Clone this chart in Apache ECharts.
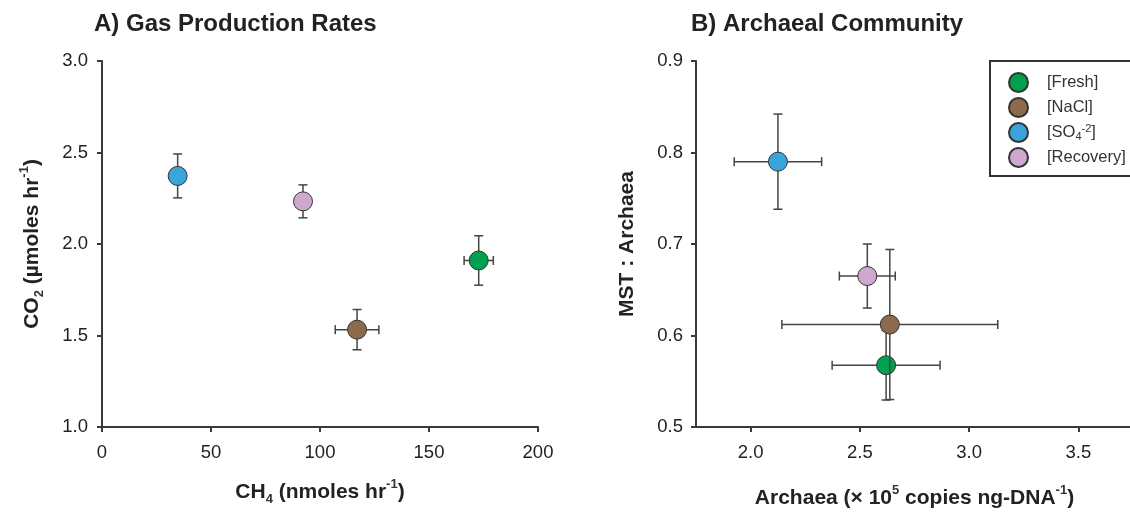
<!DOCTYPE html>
<html>
<head>
<meta charset="utf-8">
<script src="https://cdn.jsdelivr.net/npm/echarts@6/dist/echarts.min.js"></script>
<style>
  html, body { margin: 0; padding: 0; background: #fff; }
  #chart { width: 1130px; height: 514px; }
</style>
</head>
<body>
<div id="chart"></div>
<script>
// treatment groups, same order in both panels
const groups = ['[Fresh]', '[NaCl]', '[SO4-2]', '[Recovery]'];
const groupColors = ['#00a04f', '#8b6b4b', '#3aa5da', '#cfa8d0'];

// A) gas production: CH4 (nmoles/hr) vs CO2 (umoles/hr), with error
const ch4 = [172.8, 117.0, 34.7, 92.2];
const ch4Err = [6.7, 10.0, 0, 0];
const co2 = [1.91, 1.532, 2.372, 2.233];
const co2Err = [0.135, 0.11, 0.12, 0.09];

// B) archaeal community: archaea (x1e5 copies/ng DNA) vs MST:Archaea
const archaea = [2.62, 2.637, 2.125, 2.534];
const archaeaErr = [0.247, 0.494, 0.2, 0.128];
const mst = [0.5675, 0.612, 0.79, 0.665];
const mstErr = [0.038, 0.082, 0.052, 0.035];

const bTicks = [2.0, 2.5, 3.0, 3.5];

const ink = '#333';
const font = 'Liberation Sans, Arial, sans-serif';

const nameRich = {
  sub: { fontSize: 13, fontWeight: 'bold', verticalAlign: 'bottom', lineHeight: 12, fontFamily: font, color: ink },
  sup: { fontSize: 13, fontWeight: 'bold', verticalAlign: 'top', lineHeight: 12, fontFamily: font, color: ink }
};
const nameStyle = { fontSize: 21, fontWeight: 'bold', fontFamily: font, color: '#222', lineHeight: 28, rich: nameRich };

const errorBars = (params, api) => {
  const x = api.value(0), y = api.value(1), ex = api.value(2), ey = api.value(3);
  const c = api.coord([x, y]);
  const cap = 4.5;
  const style = { stroke: '#444', lineWidth: 1.5 };
  const seg = (x1, y1, x2, y2) => ({ type: 'line', shape: { x1, y1, x2, y2 }, style });
  const kids = [];
  if (ey > 0) {
    const t = api.coord([x, y + ey])[1], b = api.coord([x, y - ey])[1];
    kids.push(seg(c[0], t, c[0], b), seg(c[0] - cap, t, c[0] + cap, t), seg(c[0] - cap, b, c[0] + cap, b));
  }
  if (ex > 0) {
    const l = api.coord([x - ex, y])[0], r = api.coord([x + ex, y])[0];
    kids.push(seg(l, c[1], r, c[1]), seg(l, c[1] - cap, l, c[1] + cap), seg(r, c[1] - cap, r, c[1] + cap));
  }
  return { type: 'group', children: kids };
};

const axisBase = {
  type: 'value',
  axisLine: { show: true, lineStyle: { color: '#3a3a3a', width: 2 } },
  axisTick: { show: true, length: 5, lineStyle: { color: '#3a3a3a', width: 2 } },
  splitLine: { show: false },
  axisLabel: { fontSize: 18.5, color: '#222', fontFamily: font },
  nameLocation: 'middle',
  nameTextStyle: nameStyle
};

const series = [];
const panels = [
  { xs: ch4, xe: ch4Err, ys: co2, ye: co2Err },
  { xs: archaea, xe: archaeaErr, ys: mst, ye: mstErr }
];
panels.forEach((p, k) => {
  groups.forEach((g, i) => {
    series.push({
      type: 'custom', xAxisIndex: k, yAxisIndex: k, z: 2 + 2 * i,
      renderItem: errorBars, silent: true,
      encode: { x: 0, y: 1 },
      data: [[p.xs[i], p.ys[i], p.xe[i], p.ye[i]]]
    });
    series.push({
      type: 'scatter', name: g, xAxisIndex: k, yAxisIndex: k, z: 3 + 2 * i,
      symbol: 'circle', symbolSize: 19,
      itemStyle: { color: groupColors[i], borderColor: ink, borderWidth: 1, opacity: 1 },
      data: [[p.xs[i], p.ys[i]]]
    });
  });
});

const chart = echarts.init(document.getElementById('chart'));
chart.setOption({
  animation: false,
  title: [
    { text: 'A) Gas Production Rates', left: 89, top: 7, textStyle: { fontSize: 24, fontWeight: 'bold', color: '#222', fontFamily: font } },
    { text: 'B) Archaeal Community', left: 686, top: 7, textStyle: { fontSize: 24, fontWeight: 'bold', color: '#222', fontFamily: font } }
  ],
  legend: {
    data: groups,
    orient: 'vertical',
    left: 990, top: 61,
    itemWidth: 19, itemHeight: 19, itemGap: 4,
    icon: 'circle',
    borderColor: '#333', borderWidth: 2, borderRadius: 0,
    padding: [11, 40, 8, 18],
    textStyle: {
      fontSize: 16.5, color: '#333', fontFamily: font, lineHeight: 19, padding: [0, 0, 0, 14],
      rich: {
        sub: { fontSize: 11, verticalAlign: 'bottom', lineHeight: 10, fontFamily: font, color: '#333' },
        sup: { fontSize: 11, verticalAlign: 'top', lineHeight: 10, fontFamily: font, color: '#333' }
      }
    },
    formatter: n => n === '[SO4-2]' ? '[SO{sub|4}{sup|-2}]' : n
  },
  grid: [
    { left: 102, top: 61, width: 436, height: 366, outerBoundsMode: 'none' },
    { left: 696, top: 61, width: 437, height: 366, outerBoundsMode: 'none' }
  ],
  xAxis: [
    { ...axisBase, gridIndex: 0, min: 0, max: 200, interval: 50,
      axisLabel: { ...axisBase.axisLabel, margin: 16 },
      name: 'CH{sub|4} (nmoles hr{sup|-1})', nameGap: 51 },
    { ...axisBase, gridIndex: 1, min: 1.75, max: 3.75,
      axisTick: { ...axisBase.axisTick, customValues: bTicks },
      axisLabel: { ...axisBase.axisLabel, margin: 16, customValues: bTicks, formatter: v => v.toFixed(1) },
      name: 'Archaea (× 10{sup|5} copies ng-DNA{sup|-1})', nameGap: 57 }
  ],
  yAxis: [
    { ...axisBase, gridIndex: 0, min: 1, max: 3, interval: 0.5,
      axisLabel: { ...axisBase.axisLabel, margin: 14, formatter: v => v.toFixed(1) },
      name: 'CO{sub|2} (µmoles hr{sup|-1})', nameGap: 56 },
    { ...axisBase, gridIndex: 1, min: 0.5, max: 0.9, interval: 0.1,
      axisLabel: { ...axisBase.axisLabel, margin: 13, formatter: v => v.toFixed(1) },
      name: 'MST : Archaea', nameGap: 55 }
  ],
  series
});
</script>
</body>
</html>
